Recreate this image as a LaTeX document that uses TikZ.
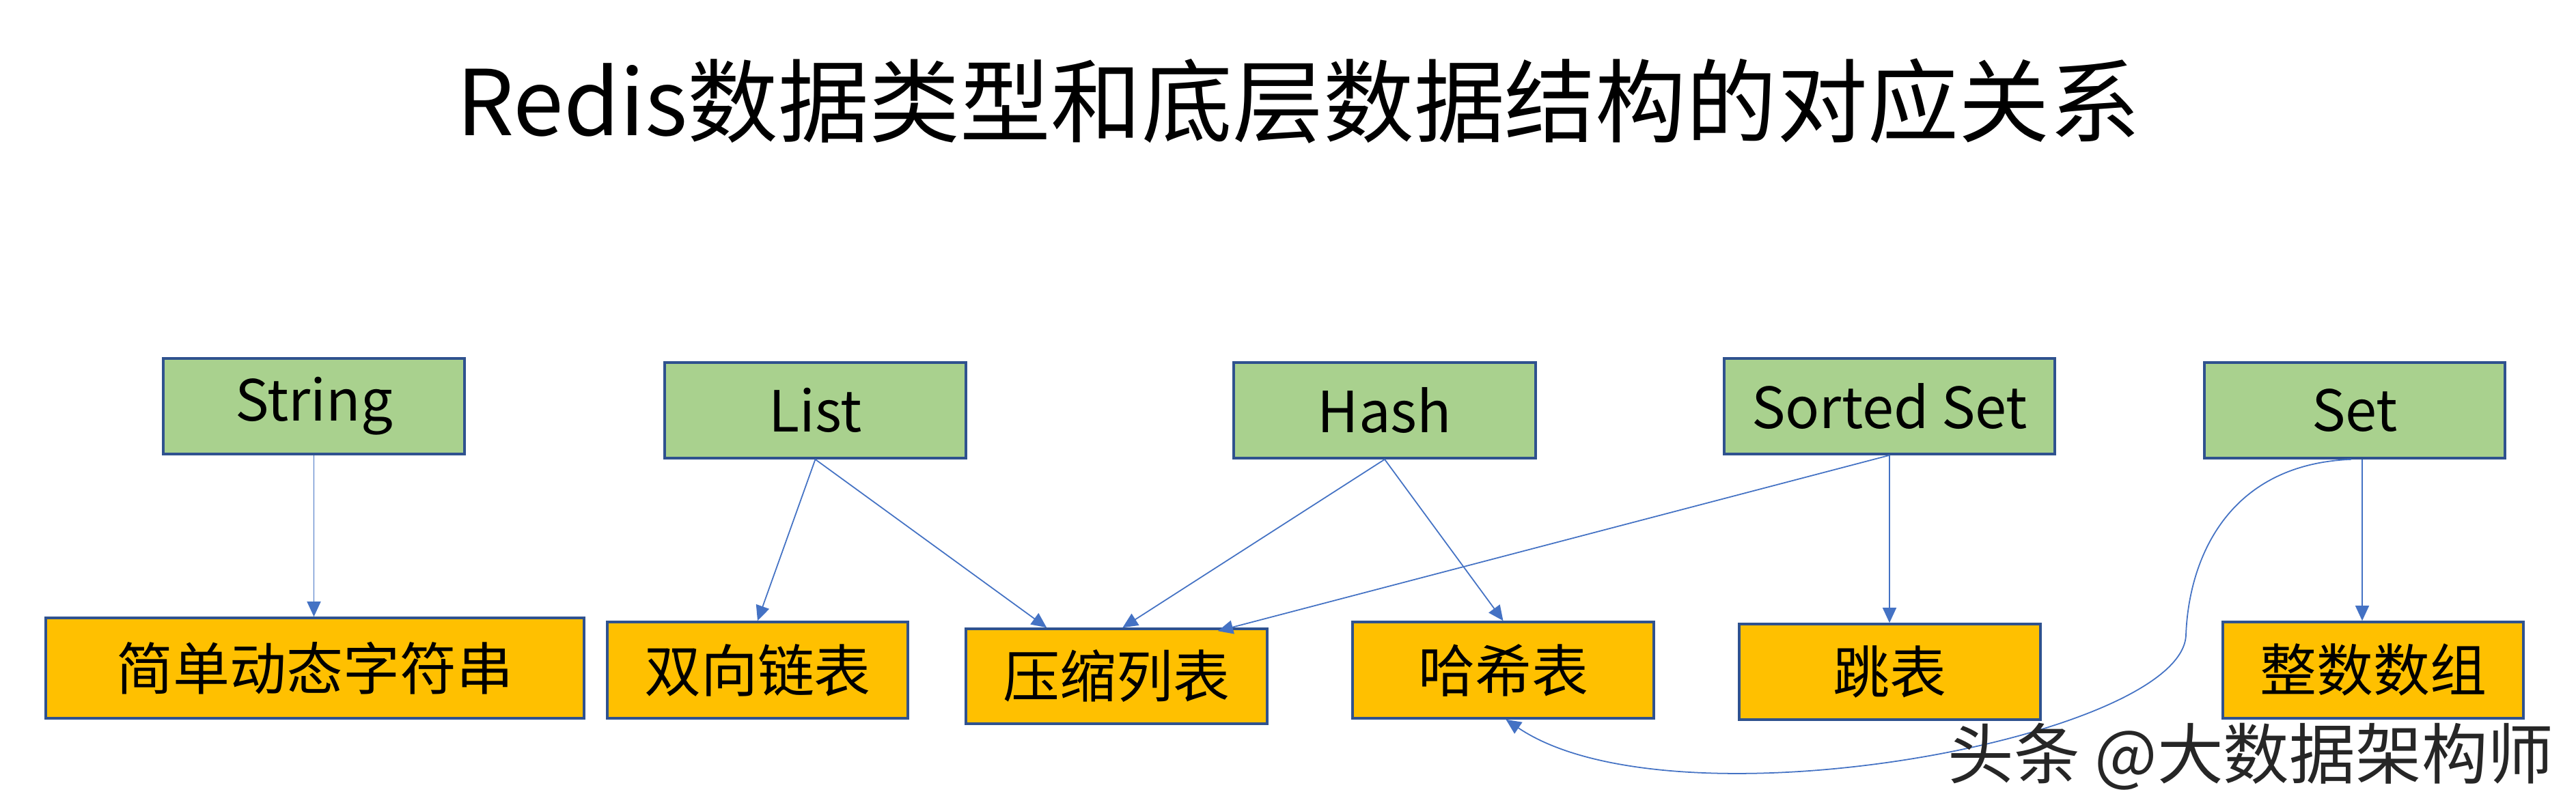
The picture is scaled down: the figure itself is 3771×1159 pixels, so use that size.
\documentclass[tikz,border=0pt]{standalone}
\usepackage{fontspec}
\setmainfont{Noto Sans CJK SC}
\usetikzlibrary{arrows.meta,calc}
\definecolor{boxgreen}{HTML}{A9D18E}
\definecolor{boxorange}{HTML}{FFC000}
\definecolor{boxborder}{HTML}{2F528F}
\definecolor{arrowblue}{HTML}{4472C4}
\begin{document}
\begin{tikzpicture}[x=0.01cm,y=-0.01cm,
  basebox/.style={draw=boxborder,line width=1pt,minimum height=1.4cm,inner sep=0pt,
    font=\fontsize{23.6}{28}\selectfont},
  typebox/.style={basebox,fill=boxgreen},
  implbox/.style={basebox,fill=boxorange},
  link/.style={draw=arrowblue,line width=0.5pt,-{Triangle[length=6.3pt,width=5.7pt]}},
  wmtext/.style={font=\fontsize{27.5}{32}\selectfont}]
\useasboundingbox (0,0) rectangle (3771,1159);
\fill[white] (0,0) rectangle (3771,1159);
% title
\node[font=\fontsize{37.8}{44}\selectfont] (title) at (1901,148) {Redis数据类型和底层数据结构的对应关系};
% data types
\node[typebox,minimum width=4.41cm] (str) at (459.5,595) {String};
\node[typebox,minimum width=4.41cm] (lst) at (1193.5,601) {List};
\node[typebox,minimum width=4.42cm] (hsh) at (2027,601) {Hash};
\node[typebox,minimum width=4.84cm] (zst) at (2766,595) {Sorted Set};
\node[typebox,minimum width=4.40cm] (set) at (3447,601) {Set};
% encodings
\node[implbox,minimum width=7.88cm,minimum height=1.47cm] (sds) at (461,978.5) {简单动态字符串};
\node[implbox,minimum width=4.40cm,minimum height=1.41cm] (dll) at (1109,981.5) {双向链表};
\node[implbox,minimum width=4.41cm,minimum height=1.39cm] (zpl) at (1634.5,990.5) {压缩列表};
\node[implbox,minimum width=4.41cm,minimum height=1.41cm] (htb) at (2200.5,981.5) {哈希表};
\node[implbox,minimum width=4.41cm,minimum height=1.40cm] (skl) at (2766.5,984) {跳表};
\node[implbox,minimum width=4.40cm,minimum height=1.41cm] (ias) at (3474,981.5) {整数数组};
% connectors
\coordinate (setout) at ($(set.south)+(11,0)$);
\coordinate (setcurve) at ($(set.south)+(-5,0)$);
\coordinate (htbin) at ($(htb.south)+(4,0)$);
\coordinate (zplA) at ($(zpl.north west)!0.27!(zpl.north east)$);
\coordinate (zplB) at ($(zpl.north west)!0.52!(zpl.north east)$);
\coordinate (zplC) at ($(zpl.north east)+(-74,5)$);
\draw[link] (str.south) -- (str.south |- sds.north);
\draw[link] (lst.south) -- (dll.north);
\draw[link] (lst.south) -- (zplA);
\draw[link] (hsh.south) -- (zplB);
\draw[link] (hsh.south) -- (htb.north);
\draw[link] (zst.south) -- (zplC);
\draw[link] (zst.south) -- (zst.south |- skl.north);
\draw[link] (setout) -- (setout |- ias.north);
\coordinate (bend) at (3200,930);
\draw[link] (setcurve) .. controls (3260,680) and (3204,820) .. (bend)
  .. controls (3195,1080) and (2450,1220) .. (htbin);
% watermark
\node[wmtext,text=black!85] (wm) at (3295,1108) {头条 @大数据架构师};
\end{tikzpicture}
\end{document}
